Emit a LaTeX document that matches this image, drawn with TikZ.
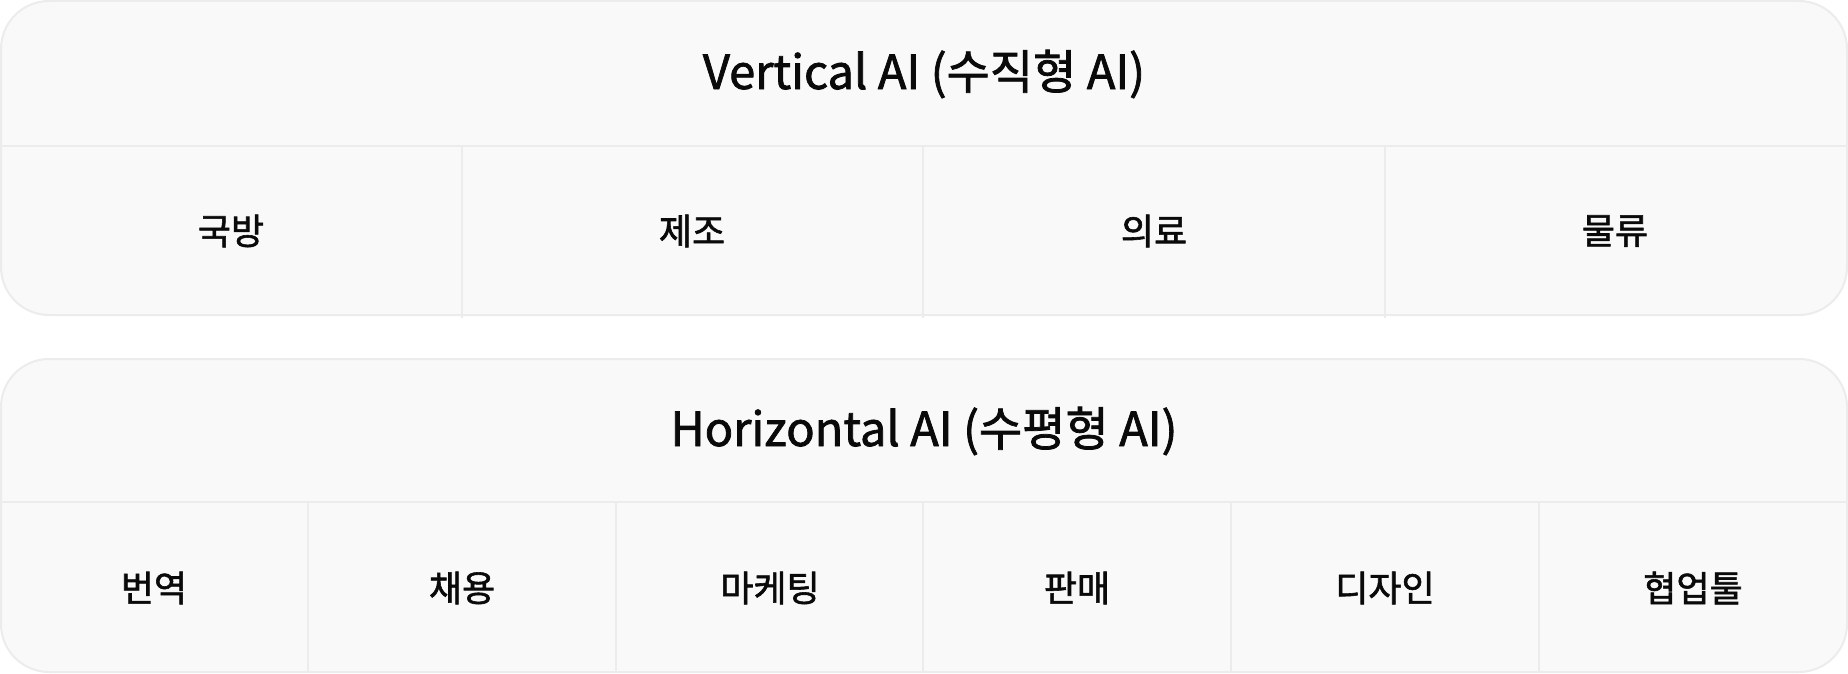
\documentclass[tikz,border=0pt]{standalone}
\usepackage{fontspec}
\setmainfont{Noto Sans CJK KR}
\newfontfamily\medfont{Noto Sans CJK KR}[FakeBold=1.6]
\definecolor{boxfill}{HTML}{F9F9F9}
\definecolor{boxline}{HTML}{ECECEC}
\definecolor{ink}{HTML}{0A0A0A}
\tikzset{
  panel/.style={draw=boxline, fill=boxfill, line width=2pt, rounded corners=48pt},
  rule/.style={draw=boxline, line width=2pt},
  title/.style={font=\medfont\fontsize{47}{54}\selectfont, text=ink, inner sep=0pt},
  cell/.style={font=\medfont\fontsize{36}{42}\selectfont, text=ink, inner sep=0pt},
}
\begin{document}
\begin{tikzpicture}[x=1pt,y=-1pt]
\useasboundingbox (0,0) rectangle (1848,674);
% top panel
\draw[panel] (1,1) rectangle (1847,315);
\draw[rule] (1,146) -- (1847,146);
\foreach \x in {462,923,1385} \draw[rule] (\x,146) -- (\x,318);
\node[title] (vt) at (924,74) {Vertical AI (수직형 AI)};
\node[cell] (v1) at (231,231) {국방};
\node[cell] (v2) at (692,231) {제조};
\node[cell] (v3) at (1154,231) {의료};
\node[cell] (v4) at (1615,231) {물류};
% bottom panel
\draw[panel] (1,359) rectangle (1847,672);
\draw[rule] (1,502) -- (1847,502);
\foreach \x in {308,616,923,1231,1539} \draw[rule] (\x,502) -- (\x,672);
\node[title] (ht) at (924,431) {Horizontal AI (수평형 AI)};
\node[cell] (h1) at (154,588) {번역};
\node[cell] (h2) at (462,588) {채용};
\node[cell] (h3) at (770,588) {마케팅};
\node[cell] (h4) at (1077,588) {판매};
\node[cell] (h5) at (1385,588) {디자인};
\node[cell] (h6) at (1693,588) {협업툴};
\end{tikzpicture}
\end{document}
